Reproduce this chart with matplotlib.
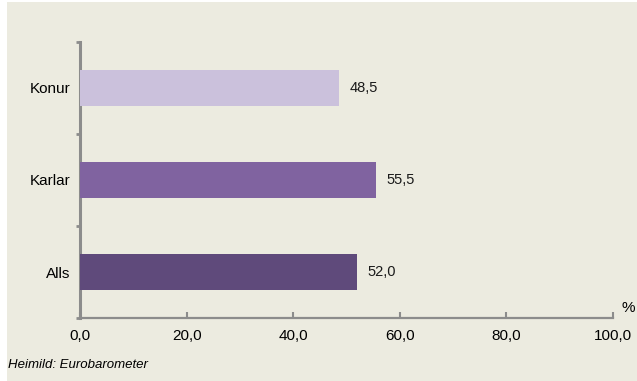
import matplotlib
matplotlib.use("Agg")
import matplotlib.pyplot as plt
from matplotlib.ticker import FixedLocator

categories = ["Alls", "Karlar", "Konur"]
values = [52.0, 55.5, 48.5]
colors = ["#5f4a7b", "#8063a0", "#cbc1dc"]
xticks = [0, 20, 40, 60, 80, 100]
xticklabels = ["0,0", "20,0", "40,0", "60,0", "80,0", "100,0"]
source = "Heimild: Eurobarometer"

plt.rcParams['font.family'] = ['Liberation Sans', 'DejaVu Sans']

W, H = 637, 381
fig = plt.figure(figsize=(W/100, H/100), dpi=100)
fig.patch.set_facecolor("white")
bg = "#ecebe0"
fig.patches.append(plt.Rectangle((7/W, 0), 1, 1 - 2/H, transform=fig.transFigure,
                                 facecolor=bg, edgecolor="none", zorder=-10))

ax = fig.add_axes([80/W, 1 - 318/H, 533/W, 276/H])
ax.set_facecolor(bg)
ypos = list(range(len(categories)))
ax.barh(ypos, values, height=0.4, color=colors, zorder=3)
for y, v in zip(ypos, values):
    ax.text(v + 2.0, y, f"{v:.1f}".replace(".", ","), va="center", ha="left",
            fontsize=10.5, color="#1a1a1a")

ax.set_xlim(0, 100)
ax.set_ylim(-0.5, 2.5)
ax.set_xticks(xticks)
ax.set_xticklabels(xticklabels, fontsize=11)
ax.set_yticks(ypos)
ax.set_yticklabels(categories, fontsize=11)
ax.yaxis.set_minor_locator(FixedLocator([-0.5, 0.5, 1.5, 2.5]))
ax.tick_params(axis="y", which="major", length=0, pad=7)
ax.tick_params(axis="y", which="minor", length=3, width=2, color="#8c8c8c", direction="out")
ax.tick_params(axis="x", which="major", length=4, width=1.5, color="#8c8c8c", direction="in", pad=8)

for s in ["top", "right"]:
    ax.spines[s].set_visible(False)
ax.spines["left"].set_color("#8c8c8c")
ax.spines["left"].set_linewidth(2.2)
ax.spines["bottom"].set_color("#8c8c8c")
ax.spines["bottom"].set_linewidth(1.6)

fig.text(635/W, 1 - 308/H, "%", fontsize=11, ha="right", va="center")
fig.text(8/W, 1 - 365/H, source, fontsize=9.5, style="italic", ha="left", va="center")

fig.savefig("out.png", dpi=100, facecolor=fig.get_facecolor())
